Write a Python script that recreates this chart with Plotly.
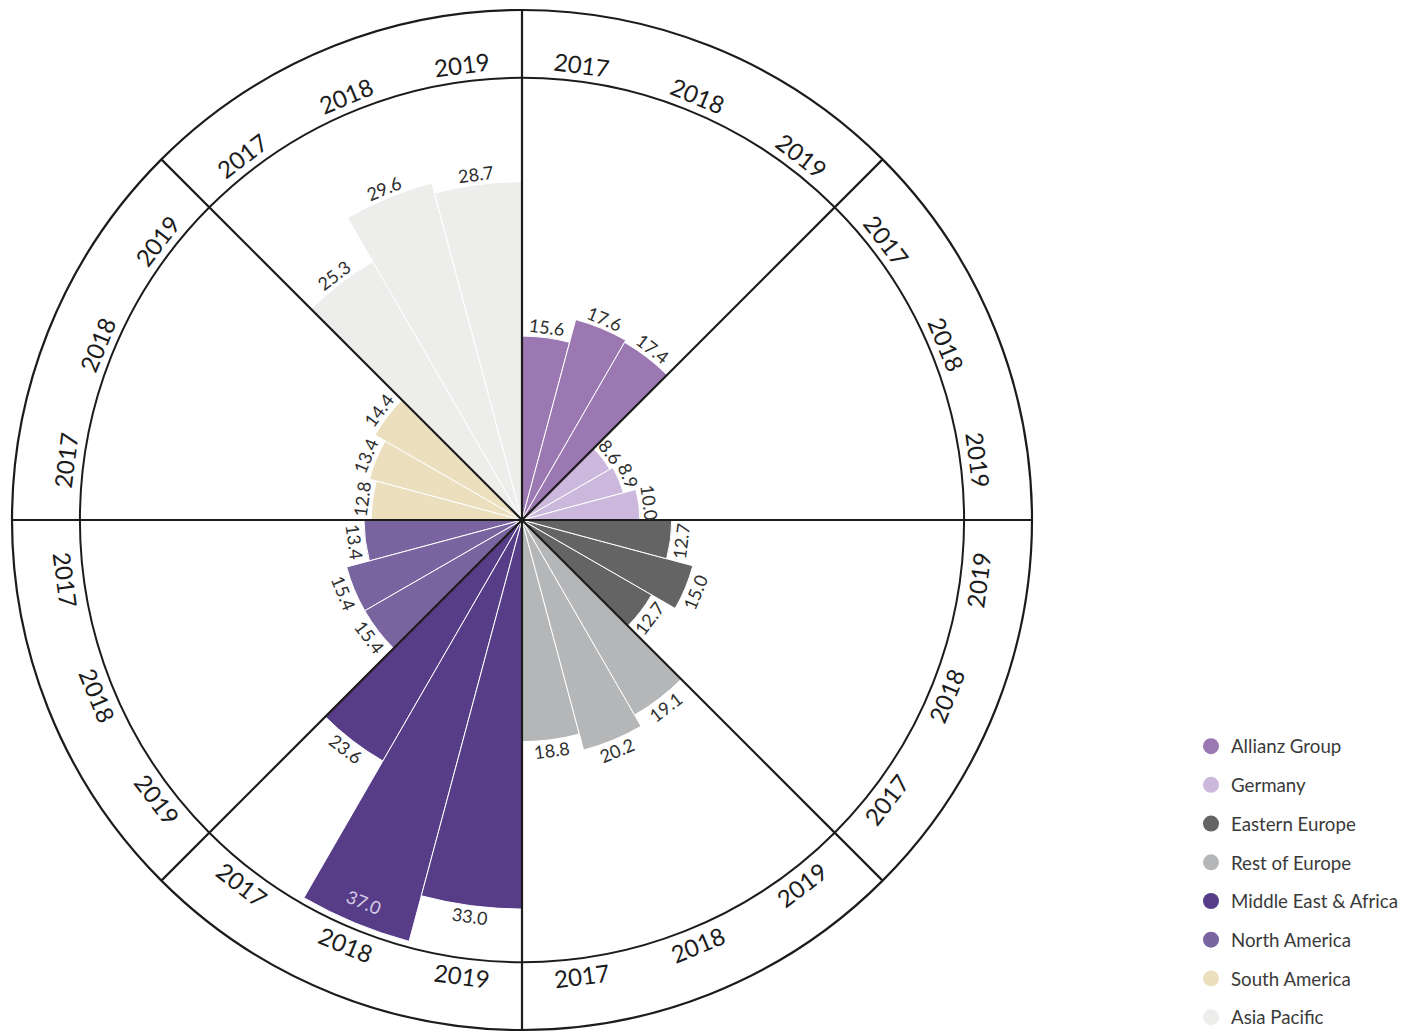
import math
import plotly.graph_objects as go

# ---- data -------------------------------------------------------------
regions = ["Allianz Group", "Germany", "Eastern Europe", "Rest of Europe",
           "Middle East & Africa", "North America", "South America", "Asia Pacific"]
years = ["2017", "2018", "2019"]
values_2017 = [15.6, 8.6, 12.7, 18.8, 23.6, 13.4, 12.8, 25.3]
values_2018 = [17.6, 8.9, 15.0, 20.2, 37.0, 15.4, 13.4, 29.6]
values_2019 = [17.4, 10.0, 12.7, 19.1, 33.0, 15.4, 14.4, 28.7]

# ---- styling ----------------------------------------------------------
colors = ["#9b78b2", "#cbb8dc", "#646464", "#b5b6b8",
          "#573d87", "#7a64a0", "#ebdfbe", "#ededec"]
FONT = "Lato"
LINE_COLOR = "#1c1c1c"
LABEL_COLOR = "#2e2e2e"

R_MAX = 43.26        # outer edge of the year ring
RING_INNER = 37.5    # inner edge of the year ring
RING_TEXT_R = 39.0   # radius of the year labels inside the ring
SECTOR = 45.0
SLOT = 15.0

W, H = 1402, 1032
cx, cy, rad = 522, 520, 510
dom_x = [(cx - rad) / W, (cx + rad) / W]
dom_y = [(H - cy - rad) / H, (H - cy + rad) / H]


def slot_angle(k, i):
    """Angle (deg, clockwise from north) of year i inside sector k.
    Years run clockwise in the upper half and counter-clockwise in the lower half."""
    j = i if k in (0, 1, 6, 7) else 2 - i
    return SECTOR * k + SLOT / 2 + SLOT * j


def text_angle(theta):
    """Tangential rotation that keeps text upright."""
    if 90 < theta < 270:
        return theta - 180
    return theta if theta < 90 else theta - 360


def to_xy(r, theta):
    t = math.radians(theta)
    return r * math.sin(t), r * math.cos(t)


series = [values_2017, values_2018, values_2019]

fig = go.Figure()
annotations = []

for k, region in enumerate(regions):
    vals = [s[k] for s in series]
    thetas = [slot_angle(k, i) for i in range(3)]
    fig.add_trace(go.Barpolar(
        r=vals, theta=thetas, width=[SLOT] * 3,
        marker=dict(color=colors[k], line=dict(color="white", width=1)),
        name=region, showlegend=False,
        customdata=years, hovertemplate="%{customdata}: %{r}<extra>" + region + "</extra>",
    ))
    # value labels just outside each bar (inside when the bar reaches the ring)
    for v, th in zip(vals, thetas):
        outside = v + 0.9 + 0.7 < RING_INNER
        r_lab = v + 0.9 if outside else v - 1.9
        x, y = to_xy(r_lab, th)
        annotations.append(dict(
            x=x, y=y, xref="x", yref="y", text=f"{v:.1f}", showarrow=False,
            textangle=text_angle(th), xanchor="center", yanchor="middle",
            font=dict(family=FONT, size=18, color=LABEL_COLOR if outside else "#d6cbe8"),
        ))
    # year labels in the outer ring
    for i, yr in enumerate(years):
        th = slot_angle(k, i)
        x, y = to_xy(RING_TEXT_R, th)
        annotations.append(dict(
            x=x, y=y, xref="x", yref="y", text=yr, showarrow=False,
            textangle=text_angle(th), xanchor="center", yanchor="middle",
            font=dict(family=FONT, size=24, color=LINE_COLOR),
        ))

# sector dividers from the centre to the outer circle
spoke_r, spoke_t = [], []
for k in range(8):
    spoke_r += [0, R_MAX, None]
    spoke_t += [SECTOR * k, SECTOR * k, None]
fig.add_trace(go.Scatterpolar(
    r=spoke_r, theta=spoke_t, mode="lines", cliponaxis=False,
    line=dict(color=LINE_COLOR, width=2.2), showlegend=False, hoverinfo="skip",
))

# legend entries (round markers)
for k, region in enumerate(regions):
    fig.add_trace(go.Scatter(
        x=[None], y=[None], mode="markers", name=region, legendgroup=region,
        marker=dict(size=20, color=colors[k], symbol="circle"),
    ))

fig.update_layout(
    width=W, height=H, autosize=False,
    margin=dict(l=0, r=0, t=0, b=0, autoexpand=False),
    paper_bgcolor="white", plot_bgcolor="white",
    polar=dict(
        domain=dict(x=dom_x, y=dom_y),
        bgcolor="white",
        angularaxis=dict(rotation=90, direction="clockwise",
                         showline=True, linecolor=LINE_COLOR, linewidth=2.2,
                         showgrid=False, showticklabels=False, ticks=""),
        radialaxis=dict(range=[0, R_MAX], showline=False, showticklabels=False,
                        ticks="", tickvals=[RING_INNER], showgrid=True,
                        gridcolor=LINE_COLOR, gridwidth=2.2),
    ),
    xaxis=dict(domain=dom_x, range=[-R_MAX, R_MAX], visible=False, fixedrange=True),
    yaxis=dict(domain=dom_y, range=[-R_MAX, R_MAX], visible=False, fixedrange=True),
    legend=dict(x=1191 / W, y=(H - 727.5) / H, xanchor="left", yanchor="top",
                font=dict(family=FONT, size=18.7, color="#3a3a3a"),
                tracegroupgap=11.4, itemsizing="trace", bgcolor="rgba(0,0,0,0)"),
    annotations=annotations,
)

fig.write_html("out.html")
